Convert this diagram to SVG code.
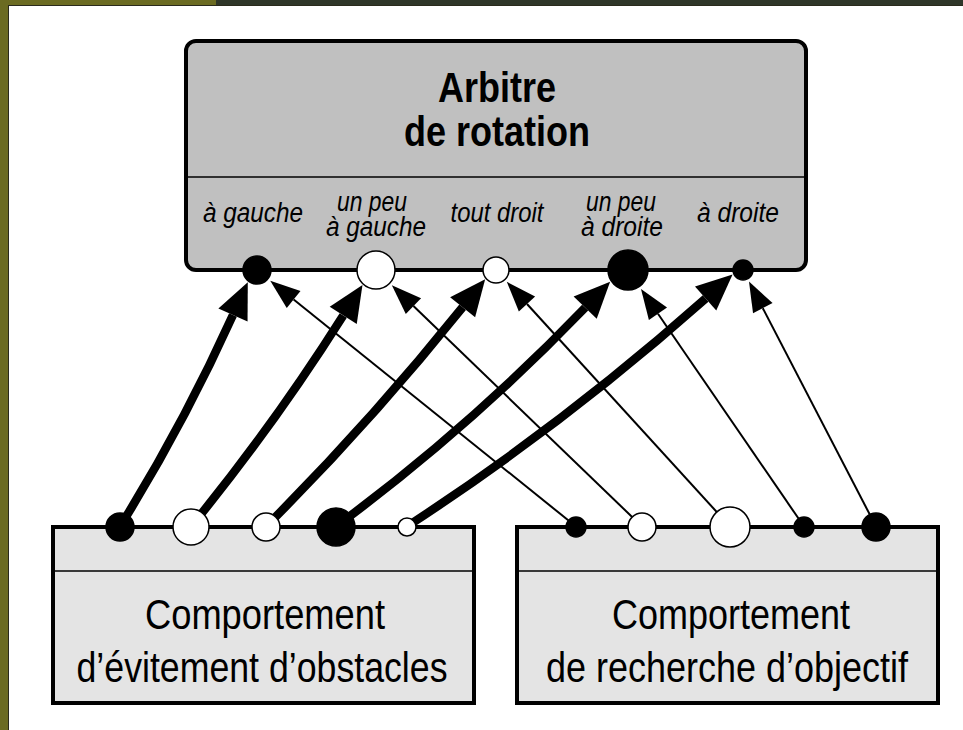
<svg xmlns="http://www.w3.org/2000/svg" width="963" height="730" viewBox="0 0 963 730">
<style>
.title{font-family:"Liberation Sans",Arial,sans-serif;font-weight:bold;font-size:42px;text-anchor:middle;fill:#000}
.lbl{font-family:"Liberation Sans",Arial,sans-serif;font-style:italic;font-size:27px;text-anchor:middle;fill:#000}
.big{font-family:"Liberation Sans",Arial,sans-serif;font-size:42px;text-anchor:middle;fill:#000}
.thick{fill:none;stroke:#000;stroke-width:8.5;marker-end:url(#headThick)}
.thin{fill:none;stroke:#000;stroke-width:2;marker-end:url(#headThin)}
.pb{fill:#000;stroke:#000;stroke-width:1.5}
.pw{fill:#fff;stroke:#000;stroke-width:1.5}
</style>
<defs>
<marker id="headThick" markerUnits="userSpaceOnUse" markerWidth="36" markerHeight="32" refX="0" refY="16" orient="auto" overflow="visible"><path d="M0,0 L36,16 L0,32 z" fill="#000"/></marker>
<marker id="headThin" markerUnits="userSpaceOnUse" markerWidth="30" markerHeight="22" refX="0" refY="11" orient="auto" overflow="visible"><path d="M0,0 L30,11 L0,22 z" fill="#000"/></marker>
</defs>
<rect x="0" y="0" width="963" height="730" fill="#fff"/>
<g id="frame">
<rect x="0" y="0" width="963" height="5" fill="#2f3629"/>
<rect x="0" y="0" width="216" height="5" fill="#6b6b22"/>
<rect x="0" y="0" width="8" height="730" fill="#6b6b22"/>
<rect x="8" y="5" width="955" height="1" fill="#2a2a1c"/>
<rect x="8" y="5" width="1" height="725" fill="#2a2a1c"/>
</g>
<g id="arbitre">
<rect x="186" y="41" width="620" height="229" rx="10" fill="#c0c0c0" stroke="#000" stroke-width="4"/>
<line x1="186" y1="177" x2="806" y2="177" stroke="#000" stroke-width="1.5"/>
<text class="title" x="497" y="102" textLength="118" lengthAdjust="spacingAndGlyphs">Arbitre</text>
<text class="title" x="497" y="146" textLength="186" lengthAdjust="spacingAndGlyphs">de rotation</text>
<text class="lbl" x="253" y="222" textLength="100" lengthAdjust="spacingAndGlyphs">à gauche</text>
<text class="lbl" x="372" y="211" textLength="70" lengthAdjust="spacingAndGlyphs">un peu</text>
<text class="lbl" x="376" y="236" textLength="100" lengthAdjust="spacingAndGlyphs">à gauche</text>
<text class="lbl" x="497" y="222" textLength="93" lengthAdjust="spacingAndGlyphs">tout droit</text>
<text class="lbl" x="621" y="211" textLength="70" lengthAdjust="spacingAndGlyphs">un peu</text>
<text class="lbl" x="622" y="236" textLength="82" lengthAdjust="spacingAndGlyphs">à droite</text>
<text class="lbl" x="738" y="222" textLength="82" lengthAdjust="spacingAndGlyphs">à droite</text>
</g>
<g id="evitement">
<rect x="53" y="527" width="421" height="176" fill="#e4e4e4" stroke="#000" stroke-width="4"/>
<line x1="53" y1="571" x2="474" y2="571" stroke="#000" stroke-width="1.5"/>
<text class="big" x="265" y="629" textLength="240" lengthAdjust="spacingAndGlyphs">Comportement</text>
<text class="big" x="262" y="682" textLength="371" lengthAdjust="spacingAndGlyphs">d’évitement d’obstacles</text>
</g>
<g id="recherche">
<rect x="517" y="527" width="421" height="176" fill="#e4e4e4" stroke="#000" stroke-width="4"/>
<line x1="517" y1="571" x2="938" y2="571" stroke="#000" stroke-width="1.5"/>
<text class="big" x="731" y="629" textLength="238" lengthAdjust="spacingAndGlyphs">Comportement</text>
<text class="big" x="727" y="682" textLength="362" lengthAdjust="spacingAndGlyphs">de recherche d’objectif</text>
</g>
<g id="connectors">
<path class="thick" d="M120,526.5 Q183.5,424.5 232.97,314.99"/>
<path class="thick" d="M191,526.5 Q273.6,425.6 343.24,315.42"/>
<path class="thick" d="M266,526.5 Q370.3,422.2 462.62,307.22"/>
<path class="thick" d="M336,526.5 Q469.8,427.6 585.17,307.62"/>
<path class="thick" d="M407,526.5 Q564.8,423.6 705.64,298.51"/>
<path class="thin" d="M576,526.5 L293.63,299.45"/>
<path class="thin" d="M642,526.5 L413.44,306.09"/>
<path class="thin" d="M730,526.5 L527,303.98"/>
<path class="thin" d="M804,526.5 L657.98,313.7"/>
<path class="thin" d="M876,526.5 L762.79,308.17"/>
</g>
<g id="ports-arbitre">
<circle class="pb" cx="257" cy="270" r="14"/>
<circle class="pw" cx="376" cy="270" r="19"/>
<circle class="pw" cx="496" cy="270" r="13"/>
<circle class="pb" cx="628" cy="270" r="20"/>
<circle class="pb" cx="743" cy="270" r="10"/>
</g>
<g id="ports-evitement">
<circle class="pb" cx="120" cy="527" r="14"/>
<circle class="pw" cx="191" cy="527" r="18"/>
<circle class="pw" cx="266" cy="527" r="14"/>
<circle class="pb" cx="336" cy="527" r="19"/>
<circle class="pw" cx="407" cy="527" r="9"/>
</g>
<g id="ports-recherche">
<circle class="pb" cx="576" cy="527" r="10"/>
<circle class="pw" cx="642" cy="527" r="14"/>
<circle class="pw" cx="730" cy="527" r="20"/>
<circle class="pb" cx="804" cy="527" r="10"/>
<circle class="pb" cx="876" cy="527" r="14"/>
</g>
</svg>
